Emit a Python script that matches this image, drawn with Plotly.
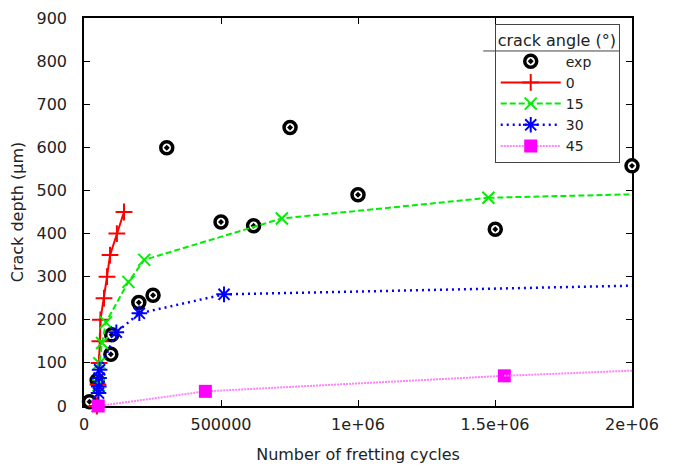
import plotly.graph_objects as go

# ---- data ----
exp_x = [20000, 48000, 98000, 101000, 200000, 252000, 302000, 500000, 619000, 752000, 1000000, 1501000, 2000000]
exp_y = [10, 59, 120, 165, 240, 257, 599, 427, 418, 646, 490, 410, 557]

a0_x = [47000, 51000, 55000, 58000, 60000, 73000, 84000, 95000, 120000, 146000]
a0_y = [0, 50, 100, 150, 200, 250, 300, 350, 400, 450]

a15_x = [50000, 53000, 56000, 66000, 80000, 162000, 220000, 722000, 1476000]
a15_y = [0, 48, 99, 146, 194, 288, 339, 435, 483]
a15_edge_x = [1476000, 2000000]
a15_edge_y = [483, 491]

a30_x = [53000, 54000, 55000, 57000, 118000, 202000, 511000]
a30_y = [30, 45, 65, 84, 171, 215, 259]
a30_edge_x = [511000, 2000000]
a30_edge_y = [259, 279]

a45_x = [52000, 443000, 1534000]
a45_y = [0, 34, 70]
a45_edge_x = [1534000, 2000000]
a45_edge_y = [70, 82]

x_tickvals = [0, 500000, 1000000, 1500000, 2000000]
x_ticktext = ["0", "500000", "1e+06", "1.5e+06", "2e+06"]
y_tickvals = [0, 100, 200, 300, 400, 500, 600, 700, 800, 900]

FONT = "DejaVu Sans"

fig = go.Figure()

fig.add_trace(go.Scatter(
    x=exp_x, y=exp_y, mode="markers", name="exp", cliponaxis=False,
    marker=dict(symbol="circle-dot", size=12, color="white",
                line=dict(color="black", width=3.5))))

fig.add_trace(go.Scatter(
    x=a0_x, y=a0_y, mode="lines+markers", name="0", cliponaxis=False,
    line=dict(color="#ff0000", width=2),
    marker=dict(symbol="cross-thin", size=12, line=dict(color="#ff0000", width=2))))

fig.add_trace(go.Scatter(
    x=a15_x, y=a15_y, mode="lines+markers", name="15", cliponaxis=False,
    line=dict(color="#00ee00", width=2, dash="6px,3px"),
    marker=dict(symbol="x-thin", size=12, line=dict(color="#00ee00", width=2))))
fig.add_trace(go.Scatter(
    x=a15_edge_x, y=a15_edge_y, mode="lines", showlegend=False, hoverinfo="skip",
    line=dict(color="#00ee00", width=2, dash="6px,3px")))

fig.add_trace(go.Scatter(
    x=a30_x, y=a30_y, mode="lines+markers", name="30", cliponaxis=False,
    line=dict(color="#0000ff", width=2.5, dash="2px,4px"),
    marker=dict(symbol="asterisk", size=13, line=dict(color="#0000ff", width=2))))
fig.add_trace(go.Scatter(
    x=a30_edge_x, y=a30_edge_y, mode="lines", showlegend=False, hoverinfo="skip",
    line=dict(color="#0000ff", width=2.5, dash="2px,4px")))

fig.add_trace(go.Scatter(
    x=a45_x, y=a45_y, mode="lines+markers", name="45", cliponaxis=False,
    line=dict(color="#ff80ff", width=2, dash="2px,1px"),
    marker=dict(symbol="square", size=13, color="#ff00ff")))
fig.add_trace(go.Scatter(
    x=a45_edge_x, y=a45_edge_y, mode="lines", showlegend=False, hoverinfo="skip",
    line=dict(color="#ff80ff", width=2, dash="2px,1px")))

axis_common = dict(
    showline=True, linecolor="black", linewidth=1.5, mirror="allticks",
    ticks="inside", ticklen=6, tickcolor="black", tickwidth=1,
    showgrid=False, zeroline=False, layer="below traces", automargin=False,
    tickfont=dict(family=FONT, size=16, color="#222"),
)

# page has an 8px body margin: figure is 672x460 placed at (8, 8)
fig.update_layout(
    width=672, height=460,
    margin=dict(l=76, r=48, t=10, b=62, autoexpand=False),
    paper_bgcolor="white", plot_bgcolor="white",
    font=dict(family=FONT, size=16, color="#222"),
    xaxis=dict(range=[0, 2000000], tickvals=x_tickvals, ticktext=x_ticktext,
               title=dict(text="Number of fretting cycles", standoff=16,
                          font=dict(family=FONT, size=16)),
               ticklabelstandoff=3, **axis_common),
    yaxis=dict(range=[0, 900], tickvals=y_tickvals,
               title=dict(text="Crack depth (μm)", standoff=10,
                          font=dict(family=FONT, size=16)),
               ticklabelstandoff=12, **axis_common),
    legend=dict(
        x=0.7495, y=0.985, xanchor="left", yanchor="top",
        bgcolor="rgba(0,0,0,0)", bordercolor="#444", borderwidth=1,
        font=dict(family=FONT, size=14, color="#222"),
        title=dict(text="crack angle (°)", font=dict(family=FONT, size=16)),
        itemwidth=60, tracegroupgap=0, entrywidth=124,
    ),
    showlegend=True,
    shapes=[dict(type="line", xref="paper", yref="paper",
                 x0=0.7285, x1=0.9765, y0=0.915, y1=0.915,
                 line=dict(color="#444", width=1))],
)

fig.write_html("out.html")
